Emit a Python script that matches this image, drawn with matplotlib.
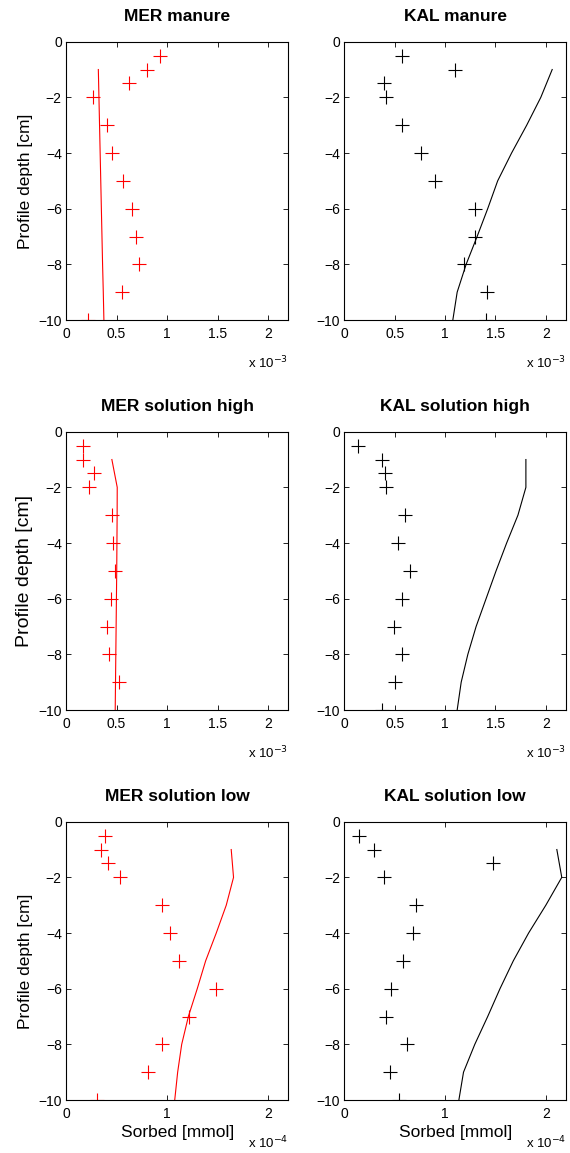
import matplotlib
matplotlib.use("Agg")
import matplotlib.pyplot as plt
from matplotlib.ticker import FixedLocator, FuncFormatter

plt.rcParams['font.family'] = ['Liberation Sans', 'DejaVu Sans']
plt.rcParams['axes.unicode_minus'] = True

# ---------------- data ----------------
depth_obs = [-0.5, -1, -1.5, -2, -3, -4, -5, -6, -7, -8, -9, -10]
depth_obs_high = [-0.5, -1, -1.5, -2, -3, -4, -5, -6, -7, -8, -9]
depth_model = [-1, -2, -3, -4, -5, -6, -7, -8, -9, -10]

titles = ["MER manure", "KAL manure", "MER solution high",
          "KAL solution high", "MER solution low", "KAL solution low"]

# values in units of the panel's scale (1e-3 or 1e-4 mmol)
mer_manure_obs = [0.928, 0.806, 0.625, 0.263, 0.408, 0.454, 0.563, 0.655,
                  0.688, 0.720, 0.559, 0.217]
mer_manure_model = [0.320, 0.326, 0.332, 0.338, 0.344, 0.350, 0.356, 0.362,
                    0.369, 0.375]

kal_manure_obs = [0.570, 1.100, 0.395, 0.418, 0.577, 0.761, 0.896, 1.298,
                  1.295, 1.183, 1.420, 1.407]
kal_manure_model = [2.063, 1.950, 1.810, 1.660, 1.522, 1.423, 1.318, 1.209,
                    1.120, 1.077]

mer_high_obs = [0.164, 0.171, 0.276, 0.230, 0.454, 0.470, 0.484, 0.444,
                0.408, 0.421, 0.526]
mer_high_model = [0.454, 0.507, 0.506, 0.504, 0.502, 0.499, 0.496, 0.493,
                  0.490, 0.487]

kal_high_obs = [0.138, 0.379, 0.399, 0.418, 0.600, 0.534, 0.649, 0.570,
                0.494, 0.577, 0.504, 0.379]
kal_high_model = [1.802, 1.802, 1.723, 1.611, 1.506, 1.407, 1.308, 1.226,
                  1.160, 1.120]

mer_low_obs = [0.382, 0.349, 0.414, 0.539, 0.951, 1.030, 1.118, 1.484,
               1.217, 0.951, 0.816, 0.303]
mer_low_model = [1.635, 1.658, 1.586, 1.487, 1.382, 1.299, 1.211, 1.145,
                 1.105, 1.076]

kal_low_obs = [0.148, 0.293, 1.473, 0.395, 0.708, 0.682, 0.586, 0.465,
               0.412, 0.623, 0.451, 0.544]
kal_low_model = [2.109, 2.158, 2.000, 1.829, 1.677, 1.545, 1.423, 1.295,
                 1.183, 1.137]

scale_exp = [-3, -3, -3, -3, -4, -4]
x_ticks_high = [0, 0.5, 1, 1.5, 2]
x_ticks_low = [0, 1, 2]
y_ticks = [0, -2, -4, -6, -8, -10]

obs_list = [mer_manure_obs, kal_manure_obs, mer_high_obs, kal_high_obs,
            mer_low_obs, kal_low_obs]
obs_depths = [depth_obs, depth_obs, depth_obs_high, depth_obs, depth_obs,
              depth_obs]
model_list = [mer_manure_model, kal_manure_model, mer_high_model,
              kal_high_model, mer_low_model, kal_low_model]
colors = ["#ff0000", "black", "#ff0000", "black", "#ff0000", "black"]

# ---------------- layout ----------------
W, H = 570, 1153
fig = plt.figure(figsize=(W / 100, H / 100), dpi=100)

col_left = [66, 344.3]
col_right = [288.3, 566]
row_top = [41.7, 431.7, 821.7]
row_bot = [320, 710, 1100]
ylabel_sizes = [12.5, 14, 12.5]

for i in range(6):
    r, c = divmod(i, 2)
    l = col_left[c] / W
    w = (col_right[c] - col_left[c]) / W
    b = 1 - row_bot[r] / H
    h = (row_bot[r] - row_top[r]) / H
    ax = fig.add_axes([l, b, w, h])
    s = 10.0 ** scale_exp[i]
    xo = [v * s for v in obs_list[i]]
    xm = [v * s for v in model_list[i]]
    col = colors[i]
    ax.plot(xm, depth_model, '-', color=col, lw=0.8)
    ax.plot(xo, obs_depths[i], '+', color=col, ms=9.5, mew=0.8,
            linestyle='none')
    ax.set_xlim(0, 2.2 * s)
    ax.set_ylim(-10, 0)
    ticks = x_ticks_high if scale_exp[i] == -3 else x_ticks_low
    ax.xaxis.set_major_locator(FixedLocator([t * s for t in ticks]))
    ax.xaxis.set_major_formatter(
        FuncFormatter(lambda v, p, s=s: f"{v / s:g}"))
    ax.yaxis.set_major_locator(FixedLocator(y_ticks))
    ax.yaxis.set_major_formatter(
        FuncFormatter(lambda v, p: f"{v:g}".replace("-", "\u2212")))
    ax.tick_params(direction='in', top=True, right=True, length=3.5,
                   width=0.6, labelsize=10)
    ax.tick_params(axis='x', pad=5)
    ax.tick_params(axis='y', pad=3)
    for sp in ax.spines.values():
        sp.set_linewidth(0.8)
    ax.set_title(titles[i], fontsize=12.5, fontweight='bold', pad=15)
    if c == 0:
        ax.set_ylabel("Profile depth [cm]", fontsize=ylabel_sizes[r])
    if r == 2:
        ax.set_xlabel("Sorbed [mmol]", fontsize=12.5, labelpad=3)
    ax.text(1.0, -0.175, "x 10$^{%d}$" % scale_exp[i],
            transform=ax.transAxes, ha='right', va='baseline', fontsize=9.5)

fig.savefig("out.png", dpi=100)
